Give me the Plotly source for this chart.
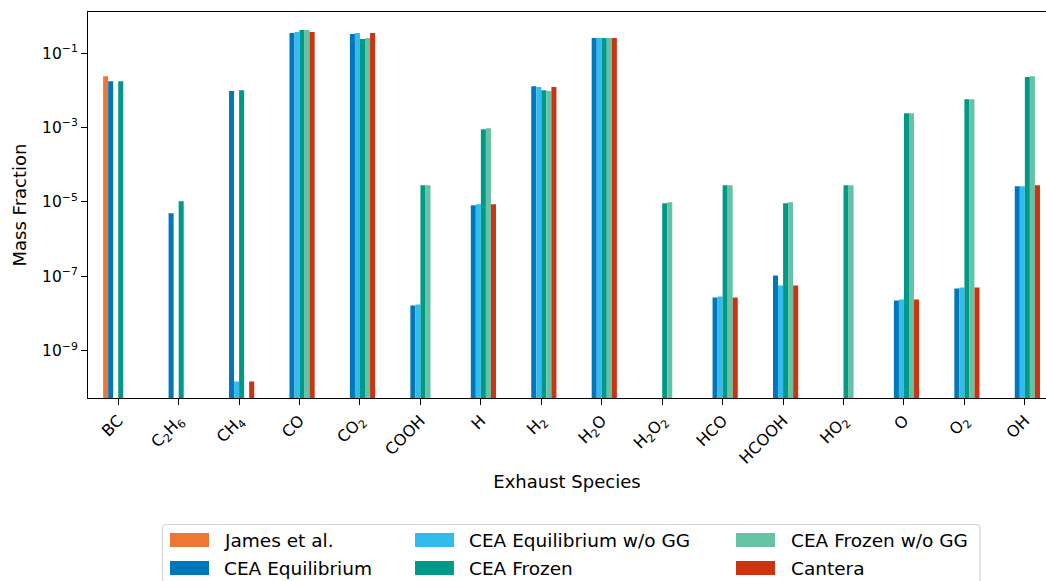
import plotly.graph_objects as go

# ---------------- data ----------------
species = ["BC", "C<sub>2</sub>H<sub>6</sub>", "CH<sub>4</sub>", "CO", "CO<sub>2</sub>", "COOH", "H",
           "H<sub>2</sub>", "H<sub>2</sub>O", "H<sub>2</sub>O<sub>2</sub>", "HCO", "HCOOH",
           "HO<sub>2</sub>", "O", "O<sub>2</sub>", "OH"]

james = [0.024, None, None, None, None, None, None, None, None, None, None, None, None, None, None, None]
cea_eq = [0.0176, 4.93e-6, 0.0095, 0.345, 0.325, 1.65e-8, 8.1e-6, 0.0129, 0.254, None,
          2.7e-8, 1.06e-7, None, 2.25e-8, 4.72e-8, 2.63e-5]
cea_eq_wo_gg = [None, None, 1.5e-10, 0.367, 0.345, 1.75e-8, 8.6e-6, 0.0122, 0.254, None,
                2.88e-8, 5.7e-8, None, 2.39e-8, 5.02e-8, 2.63e-5]
cea_frozen = [0.0176, 1.04e-5, 0.0101, 0.416, 0.238, 2.8e-5, 9.0e-4, 0.0101, 0.254, 9.2e-6,
              2.8e-5, 9.2e-6, 2.8e-5, 2.43e-3, 5.78e-3, 0.0226]
cea_frozen_wo_gg = [None, None, None, 0.416, 0.254, 2.8e-5, 9.6e-4, 0.0095, 0.254, 9.75e-6,
                    2.8e-5, 9.75e-6, 2.8e-5, 2.43e-3, 5.78e-3, 0.024]
cantera = [None, None, 1.5e-10, 0.367, 0.345, None, 8.6e-6, 0.0122, 0.254, None,
           2.7e-8, 5.7e-8, None, 2.39e-8, 5.02e-8, 2.8e-5]

series_names = ["James et al.", "CEA Equilibrium", "CEA Equilibrium w/o GG",
                "CEA Frozen", "CEA Frozen w/o GG", "Cantera"]
series_values = [james, cea_eq, cea_eq_wo_gg, cea_frozen, cea_frozen_wo_gg, cantera]
series_colors = ["#EE7733", "#0077BB", "#33BBEE", "#009988", "#66C2A5", "#CC3311"]

y_tickvals = [1e-9, 1e-7, 1e-5, 1e-3, 1e-1]
y_ticktext = ["10<sup>\u22129</sup>", "10<sup>\u22127</sup>", "10<sup>\u22125</sup>",
              "10<sup>\u22123</sup>", "10<sup>\u22121</sup>"]

# ---------------- figure ----------------
W, H = 1046, 581
ML, MR, MT, MB = 88, 0, 12, 183
FONT = "DejaVu Sans"

fig = go.Figure()
for name, vals, col in zip(series_names, series_values, series_colors):
    fig.add_trace(go.Bar(x=species, y=vals, name=name, marker_color=col,
                         marker_line_width=0, showlegend=False))

fig.update_layout(
    width=W, height=H,
    margin=dict(l=ML, r=MR, t=MT, b=MB, autoexpand=False),
    paper_bgcolor="white", plot_bgcolor="white",
    barmode="group", bargap=0.5, bargroupgap=0,
    font=dict(family=FONT, size=15, color="black"),
)
fig.update_xaxes(
    type="category", range=[-0.5, 15.35],
    showline=True, linecolor="black", linewidth=1.2, mirror=True,
    ticks="outside", ticklen=6, tickwidth=1.2, tickcolor="black",
    tickangle=-45, tickfont=dict(size=16),
    showgrid=False, zeroline=False,
    title=dict(text="Exhaust Species", font=dict(size=18), standoff=8),
    automargin=False,
)
fig.update_yaxes(
    type="log", range=[-10.27, 0.104],
    showline=True, linecolor="black", linewidth=1.2, mirror=False,
    ticks="outside", ticklen=6, tickwidth=1.2, tickcolor="black",
    tickvals=y_tickvals, ticktext=y_ticktext, tickfont=dict(size=15.5),
    showgrid=False, zeroline=False,
    title=dict(text="Mass Fraction", font=dict(size=18), standoff=10),
    automargin=False,
)

# ---------------- custom legend (pixel layout -> paper coords) ----------------
PW, PH = W - ML - MR, H - MT - MB


def px(xp):
    return (xp - ML) / PW


def py(yp):
    return (H - MB - yp) / PH


# frame with rounded top corners
L, R, T, B, rad = 162.5, 980.0, 524.5, 600.0, 4.0
path = (f"M {px(L)},{py(B)} L {px(L)},{py(T + rad)} "
        f"Q {px(L)},{py(T)} {px(L + rad)},{py(T)} "
        f"L {px(R - rad)},{py(T)} Q {px(R)},{py(T)} {px(R)},{py(T + rad)} "
        f"L {px(R)},{py(B)} Z")
fig.add_shape(type="path", path=path, xref="paper", yref="paper",
              line=dict(color="#d4d4d4", width=1.2), fillcolor="white", layer="above")

col_swatch_x = [170, 415, 736]
col_text_x = [222, 467, 789]
row_center_y = [540, 568]
order = [0, 1, 2, 3, 4, 5]  # column-major, 2 rows
for k, idx in enumerate(order):
    c, r = k // 2, k % 2
    x0 = col_swatch_x[c]
    yc = row_center_y[r]
    fig.add_shape(type="rect", xref="paper", yref="paper",
                  x0=px(x0), x1=px(x0 + 39), y0=py(yc - 7), y1=py(yc + 7),
                  fillcolor=series_colors[idx], line=dict(width=0), layer="above")
    fig.add_annotation(text=series_names[idx], xref="paper", yref="paper",
                       x=px(col_text_x[c]), y=py(yc), xanchor="left", yanchor="middle",
                       showarrow=False, font=dict(size=18.5, family=FONT, color="black"))

fig.write_html("out.html", config={"displayModeBar": False},
               post_script="document.body.style.margin='0';document.body.style.overflow='hidden';")
